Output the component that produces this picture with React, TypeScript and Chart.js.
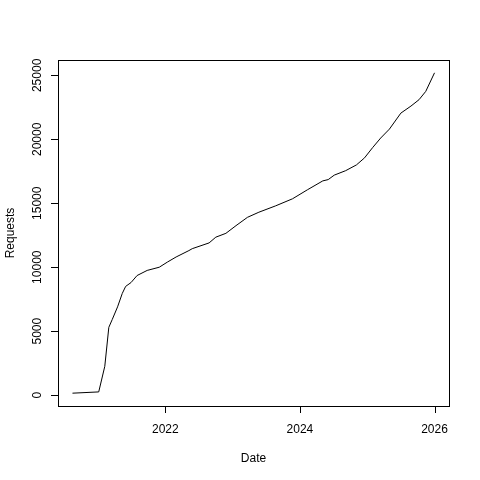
import { useEffect, useRef } from "react";
import { Chart, registerables } from "chart.js";

Chart.register(...registerables);

// decimal years and cumulative request counts
const dates = [
  2020.62, 2021.01, 2021.1, 2021.16, 2021.21, 2021.29, 2021.36, 2021.41, 2021.49,
  2021.58, 2021.73, 2021.91, 2022.03, 2022.16, 2022.35, 2022.4, 2022.65, 2022.75,
  2022.9, 2023.05, 2023.22, 2023.39, 2023.64, 2023.89, 2024.11, 2024.34, 2024.42,
  2024.51, 2024.68, 2024.84, 2024.96, 2025.08, 2025.2, 2025.33, 2025.5, 2025.65,
  2025.77, 2025.87, 2026.0,
];
const requests = [
  150, 250, 2250, 5300, 5900, 6900, 7950, 8500, 8800, 9350, 9750, 10000, 10400,
  10800, 11300, 11450, 11900, 12350, 12650, 13250, 13900, 14300, 14800, 15350,
  16050, 16750, 16850, 17200, 17550, 18000, 18550, 19350, 20100, 20800, 22050,
  22600, 23100, 23750, 25200,
];
const xTicks = [2022, 2024, 2026];
const yTicks = [0, 5000, 10000, 15000, 20000, 25000];
const xTitle = "Date";
const yTitle = "Requests";

// R-style axis range: data range extended by 4% on each side
const pad = (vals: number[]) => {
  const lo = Math.min(...vals);
  const hi = Math.max(...vals);
  const d = (hi - lo) * 0.04;
  return [lo - d, hi + d];
};

const FONT = "12px 'Liberation Sans', Arial, sans-serif";

const rAxes = {
  id: "rAxes",
  afterDraw(chart: Chart) {
    const { ctx, chartArea: a, scales } = chart;
    const sx = scales.x;
    const sy = scales.y;
    ctx.save();
    ctx.strokeStyle = "#000";
    ctx.fillStyle = "#000";
    ctx.lineWidth = 1;
    ctx.strokeRect(Math.round(a.left) + 0.5, Math.round(a.top) + 0.5,
      Math.round(a.right - a.left), Math.round(a.bottom - a.top));
    ctx.font = FONT;

    // x axis ticks
    ctx.textAlign = "center";
    ctx.textBaseline = "alphabetic";
    ctx.beginPath();
    for (const t of xTicks) {
      const px = Math.round(sx.getPixelForValue(t)) + 0.5;
      ctx.moveTo(px, a.bottom);
      ctx.lineTo(px, a.bottom + 7);
    }
    ctx.stroke();
    for (const t of xTicks) {
      ctx.fillText(String(t), sx.getPixelForValue(t), 433);
    }
    ctx.fillText(xTitle, (a.left + a.right) / 2, 462);

    // y axis ticks
    ctx.beginPath();
    for (const t of yTicks) {
      const py = Math.round(sy.getPixelForValue(t)) + 0.5;
      ctx.moveTo(a.left, py);
      ctx.lineTo(a.left - 7, py);
    }
    ctx.stroke();
    for (const t of yTicks) {
      ctx.save();
      ctx.translate(41, sy.getPixelForValue(t));
      ctx.rotate(-Math.PI / 2);
      ctx.fillText(String(t), 0, 0);
      ctx.restore();
    }
    ctx.save();
    ctx.translate(14, (a.top + a.bottom) / 2);
    ctx.rotate(-Math.PI / 2);
    ctx.fillText(yTitle, 0, 0);
    ctx.restore();
    ctx.restore();
  },
};

export default function App() {
  const canvasRef = useRef<HTMLCanvasElement>(null);
  const chartRef = useRef<Chart | null>(null);

  useEffect(() => {
    if (!canvasRef.current) return;
    if (chartRef.current) chartRef.current.destroy();

    const [xMin, xMax] = pad(dates);
    const [yMin, yMax] = pad(requests);

    chartRef.current = new Chart(canvasRef.current, {
      type: "line",
      data: {
        datasets: [
          {
            data: dates.map((d, i) => ({ x: d, y: requests[i] })),
            borderColor: "#000",
            borderWidth: 1,
            pointRadius: 0,
            tension: 0,
          },
        ],
      },
      options: {
        animation: false,
        responsive: false,
        layout: { padding: { left: 58, right: 31, top: 60, bottom: 74 } },
        plugins: { legend: { display: false }, tooltip: { enabled: false } },
        scales: {
          x: { type: "linear", display: false, min: xMin, max: xMax },
          y: { type: "linear", display: false, min: yMin, max: yMax },
        },
      },
      plugins: [rAxes],
    });

    return () => {
      if (chartRef.current) {
        chartRef.current.destroy();
        chartRef.current = null;
      }
    };
  }, []);

  return (
    <div style={{ position: "fixed", left: 0, top: 0, width: 480, height: 480, background: "#fff" }}>
      <canvas ref={canvasRef} width={480} height={480} style={{ width: 480, height: 480 }} />
    </div>
  );
}
